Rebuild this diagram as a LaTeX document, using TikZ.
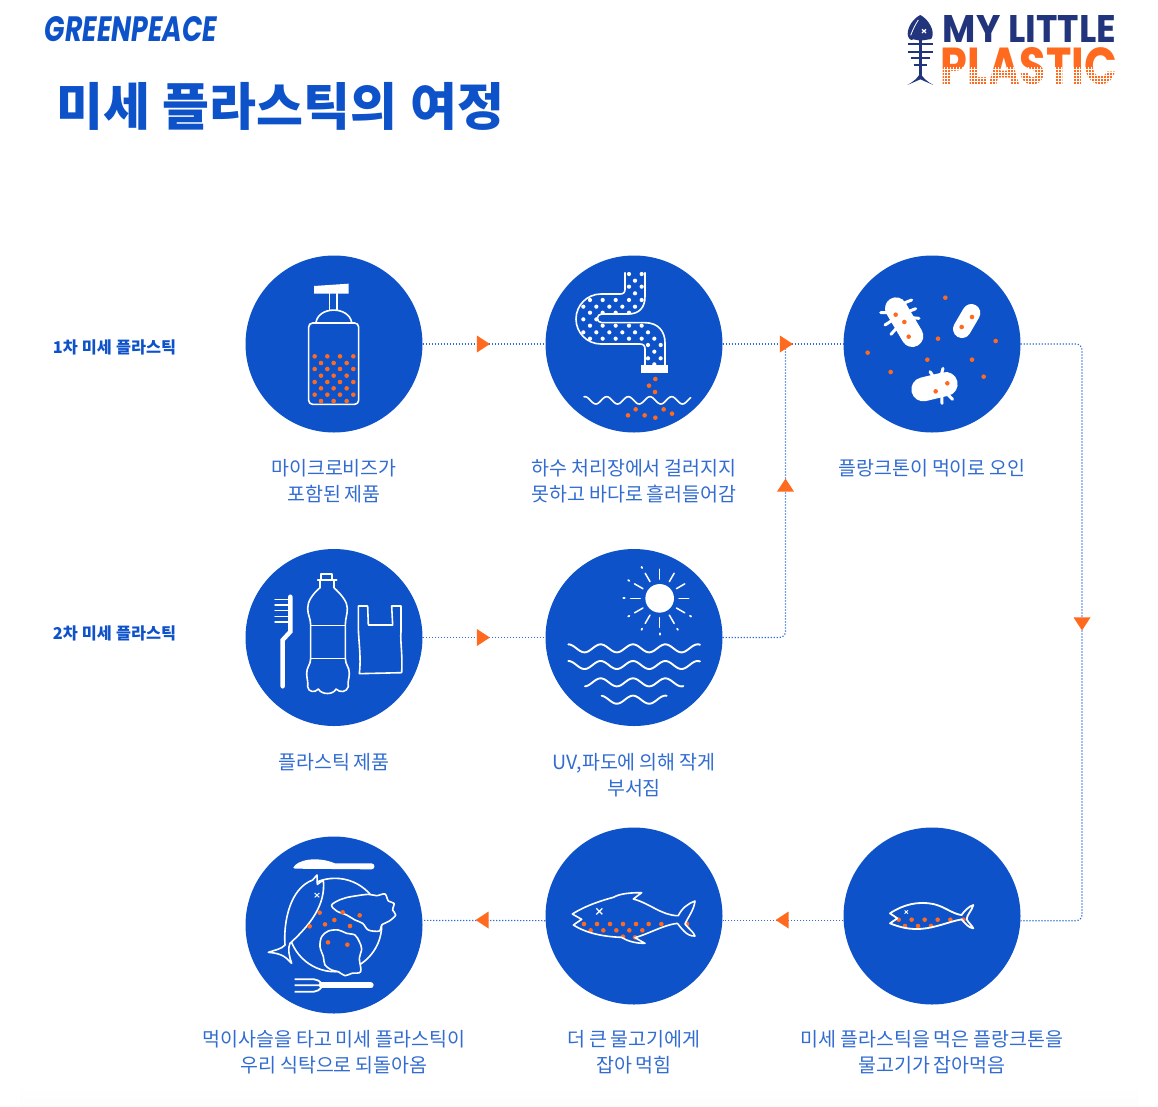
\documentclass[tikz,border=0pt]{standalone}
\usepackage{fontspec}
\usetikzlibrary{shapes.geometric}
\setmainfont{Noto Sans CJK KR}[WordSpace=0.85]
\newfontfamily\headfont{Noto Sans CJK KR}[WordSpace=1.1]
\newfontfamily\logofont{Poppins}[BoldFont=Poppins Bold]
\definecolor{gpblue}{HTML}{0E52C9}
\definecolor{gporange}{HTML}{FF6A1F}
\definecolor{gpnavy}{HTML}{22357C}
\definecolor{gpline}{HTML}{2E6BD6}
\tikzset{
  disc/.style={circle,fill=gpblue,minimum size=177pt,inner sep=0pt},
  flowtip/.style={isosceles triangle,isosceles triangle stretches,fill=gporange,minimum width=17pt,minimum height=13pt,inner sep=0pt,shape border rotate=#1},
  flowline/.style={draw=gpline,line width=1.2pt,dash pattern=on 1.2pt off 1.8pt},
  caption/.style={text=gpblue!85!white,font=\fontsize{19.5}{26}\selectfont,align=center,inner sep=0pt},
  sidenote/.style={text=gpblue,font=\headfont\bfseries\fontsize{16.3}{20}\selectfont,inner sep=0pt},
  icon/.style={draw=white,line width=1.6pt,line cap=round,line join=round},
  zoomed/.style={x=0.33333pt,y=-0.33333pt}
}
\newcommand{\orangedots}[1]{\foreach \px/\py in {#1} \fill[gporange] (\px,\py) circle (2.3pt);}
\newcommand{\whitedots}[1]{\foreach \px/\py in {#1} \fill[white] (\px,\py) circle (2.1pt);}
\newcommand{\wave}[4]{\draw[icon,line width=1.9pt] plot[domain=#1:#2,samples=90,smooth] (\x,{#3-12*cos((\x-#4)/97*360)});}
\begin{document}
\begin{tikzpicture}[x=1pt,y=-1pt]
  \useasboundingbox (0,0) rectangle (1158,1106);
  \shade[top color=white,bottom color=black!1] (20,1085) rectangle (1138,1106);
  % header
  \node[text=gpblue,font=\headfont\bfseries\fontsize{51}{51}\selectfont,anchor=west,inner sep=0pt] (title) at (56,106) {미세 플라스틱의 여정};
  \node[text=gpblue,anchor=center,inner sep=0pt] (greenpeace) at (131,29) {\resizebox{172pt}{25pt}{\logofont\bfseries\itshape GREENPEACE}};
  \node[text=gpnavy,inner sep=0pt] (mylittle) at (1029.5,28.5) {\resizebox{173pt}{27pt}{\logofont\bfseries MY LITTLE}};
  \node[text=gporange,inner sep=0pt] (plastic) at (1029,66.5) {\resizebox{176pt}{37pt}{\logofont\bfseries PLASTIC}};
  \begin{scope}
    \clip (938,67) rectangle (1120,88);
    \foreach \k in {69,72,...,87} \draw[white,line width=0.9pt] (938,\k) -- (1120,\k);
    \foreach \k in {938,941,...,1120} \draw[white,line width=0.9pt] (\k,67) -- (\k,88);
  \end{scope}
  \begin{scope}[shift={(880,0)},zoomed]
    \fill[gpnavy] (121,45) .. controls (100,55) and (83,80) .. (83,102) .. controls (84,115) and (92,124) .. (100,118) -- (121,122) -- (148,118) .. controls (155,120) and (158,110) .. (158,100) .. controls (158,80) and (140,55) .. (121,45) -- cycle;
    \draw[white,line width=0.8pt] (92,106) .. controls (100,85) and (108,70) .. (115,60);
    \draw[white,line width=1.2pt] (126,88) -- (138,99) (138,88) -- (126,99);
    \draw[gpnavy,line width=2.6pt] (121,118) -- (121,230);
    \foreach \ry/\rx in {133/38,155/38,175/29,195/20} \draw[gpnavy,line width=2pt] (121-\rx,\ry) -- (121+\rx,\ry);
    \fill[gpnavy] (121,215) .. controls (118,232) and (100,245) .. (82,255) -- (121,238) -- (160,255) .. controls (142,245) and (124,232) .. (121,215) -- cycle;
  \end{scope}
  % discs
  \node[disc] (soap) at (334,344) {};
  \node[disc] (pipe) at (634,344) {};
  \node[disc] (plankton) at (932,344) {};
  \node[disc] (products) at (334,637.5) {};
  \node[disc] (sea) at (634,637.5) {};
  \node[disc] (dish) at (334,925) {};
  \node[disc] (bigfish) at (634,916) {};
  \node[disc] (smallfish) at (932,916) {};
  % connectors
  \coordinate (riseturn) at (785.5,637.5);
  \coordinate (rightturn) at (1082,344);
  \coordinate (risetop) at (785.5,344);
  \draw[flowline] (soap) -- (pipe);
  \draw[flowline] (pipe) -- (plankton);
  \draw[flowline] (products) -- (sea);
  \draw[flowline,rounded corners=6pt] (sea.east) -- (riseturn) -- (risetop);
  \draw[flowline,rounded corners=6pt] (plankton.east) -- (rightturn) |- (smallfish.-3);
  \draw[flowline] (smallfish.183) -- (bigfish.-3);
  \draw[flowline] (bigfish.183) -- (dish.3);
  \node[flowtip=0] (tipa) at (481.5,344) {};
  \node[flowtip=0] (tipb) at (784.5,344) {};
  \node[flowtip=0] (tipc) at (481.5,637.5) {};
  \node[flowtip=90] (tipd) at (785.5,487) {};
  \node[flowtip=-90] (tipe) at (1082,622) {};
  \node[flowtip=180] (tipf) at (784,920) {};
  \node[flowtip=180] (tipg) at (484,920) {};
  % soap bottle
  \begin{scope}[shift={(240,250)},zoomed]
    \fill[white] (222,108) -- (326,101) -- (326,131) -- (222,131) -- cycle;
    \draw[icon] (268,131) -- (268,180) (291,131) -- (291,180);
    \draw[icon] (228,217) .. controls (236,168) and (326,168) .. (335,217);
    \draw[icon,rounded corners=4pt] (206,219) rectangle (356,463);
    \orangedots{224/319,262/319,300/319,340/319,243/339,281/339,320/339,224/357,262/357,300/357,340/357,243/377,281/377,320/377,224/396,262/396,300/396,340/396,243/415,281/415,320/415,224/434,262/434,300/434,340/434,243/453,281/453,320/453}
    % drain pipe
    \draw[icon] (1155,68) -- (1155,118) .. controls (1155,128) and (1150,132) .. (1140,132) -- (1083,132) arc[start angle=-90,end angle=-270,radius=75] -- (1200,282) .. controls (1210,282) and (1215,287) .. (1215,297) -- (1215,345);
    \draw[icon] (1215,68) -- (1215,140) .. controls (1215,175) and (1195,192) .. (1165,192) -- (1085,192) arc[start angle=-90,end angle=-270,radius=13] -- (1215,218) .. controls (1255,218) and (1275,245) .. (1275,278) -- (1275,345);
    \fill[white] (1202,345) rectangle (1285,370);
    \whitedots{1167/72,1205/72,1185/92,1167/110,1205/110,1185/130,1050/150,1088/150,1127/150,1167/150,1205/150,1030/170,1069/170,1108/170,1147/170,1185/170,1050/188,1088/188,1127/188,1167/188,1030/208,1069/208,1050/227,1088/227,1127/227,1167/227,1205/227,1030/247,1069/247,1108/247,1147/247,1185/247,1224/247,1050/266,1088/266,1127/266,1167/266,1205/266,1243/266,1224/285,1262/285,1243/305,1224/325,1262/325,1243/343}
    \orangedots{1246/387,1227/407,1245/426,1187/478,1164/496,1214/496,1246/503,1271/478,1296/491}
    \draw[icon] plot[domain=1032:1352,samples=90,smooth] (\x,{451-11*cos((\x-1100)/65*360)});
  \end{scope}
  % plankton
  \begin{scope}[shift={(770,250)},zoomed]
    \draw[white,line width=22pt,line cap=round] (378,175) -- (427,258);
    \draw[white,line width=18pt,line cap=round] (604,189) -- (576,237);
    \draw[white,line width=24pt,line cap=round] (460,418) -- (527,402);
    \draw[white,line width=3pt,line cap=round] (405,158) -- (425,150) (412,186) -- (437,176) (425,203) -- (447,205) (332,188) -- (360,188) (345,225) -- (365,212) (363,253) -- (378,236) (480,365) -- (492,382) (519,355) -- (513,378) (516,460) -- (515,435) (548,448) -- (530,430);
    \orangedots{377/194,403/216,416/260,606/201,575/231,532/400,497/424,526/143,504/266,677/273,293/308,472/329,606/329,362/366,641/380}
  \end{scope}
  % products
  \begin{scope}[shift={(240,545)},zoomed]
    \draw[icon,line width=4.4pt,line join=miter] (128,424) -- (128,285) -- (151,260) -- (151,155);
    \foreach \ky in {163,180,197,214,231} \draw[icon,line width=1.5pt] (105,\ky) -- (150,\ky);
    \draw[icon] (233,105) -- (290,105);
    \draw[icon] (243,105) -- (243,87) -- (276,87) -- (276,105);
    \draw[icon] (240,108) -- (240,128) .. controls (215,150) and (203,170) .. (203,190) .. controls (203,210) and (212,220) .. (212,240) -- (212,340) .. controls (212,360) and (200,365) .. (200,385) .. controls (200,400) and (205,410) .. (203,425) .. controls (205,442) and (225,444) .. (235,432) .. controls (245,450) and (280,450) .. (288,432) .. controls (300,444) and (320,442) .. (325,425) .. controls (322,410) and (328,400) .. (328,385) .. controls (328,365) and (316,360) .. (316,340) -- (316,240) .. controls (316,220) and (322,210) .. (322,190) .. controls (322,170) and (305,150) .. (282,128) -- (282,108);
    \draw[icon] (212,242) -- (316,242) (212,340) -- (316,340);
    \draw[icon] (355,183) -- (383,183) -- (385,240) -- (458,240) -- (455,183) -- (483,183) -- (483,260) .. controls (480,290) and (488,320) .. (485,383) -- (358,386) .. controls (364,340) and (356,290) .. (355,250) -- cycle;
    % sun and waves
    \fill[white] (1259,160) circle (14.3pt);
    \foreach \ka in {0,30,...,330} \draw[icon,line width=1.5pt] ([shift={(1259,160)}]\ka:58) -- ([shift={(1259,160)}]\ka:87);
    \foreach \ka in {-120,-150,-180,-210,-240,-270,-300,-330} \draw[icon,line width=1.8pt] ([shift={(1259,160)}]\ka:105) -- ([shift={(1259,160)}]\ka:109);
    \wave{985}{1380}{310}{1082}
    \wave{985}{1380}{360}{1082}
    \wave{1035}{1330}{412}{1082}
    \wave{1085}{1280}{464}{1082}
  \end{scope}
  % dish
  \begin{scope}[shift={(240,825)},zoomed]
    \fill[white] (160,128) .. controls (170,105) and (230,92) .. (285,115) -- (395,115) .. controls (406,116) and (406,132) .. (395,133) -- (165,131) -- cycle;
    \draw[white,line width=6pt,line cap=round] (245,481) -- (392,481);
    \draw[white,line width=1.8pt] (164,463) -- (205,463) .. controls (232,460) and (245,470) .. (245,481) .. controls (245,492) and (232,503) .. (205,500) -- (164,500) (164,481) -- (245,481);
    \draw[icon] (285,300) circle (46.7pt);
    \draw[icon,fill=gpblue] (231,150) -- (232,178) -- (250,165) .. controls (258,240) and (210,300) .. (150,355) .. controls (142,370) and (148,395) .. (155,415) .. controls (140,400) and (130,385) .. (85,382) .. controls (105,375) and (125,372) .. (135,360) .. controls (130,290) and (150,190) .. (218,165) -- cycle;
    \draw[white,line width=1pt] (224,204) -- (238,217) (238,204) -- (224,217);
    \draw[icon,fill=gpblue] plot[smooth cycle,tension=0.55] coordinates {(275,240) (300,224) (318,218) (345,213) (385,208) (410,212) (435,207) (445,228) (462,235) (458,255) (467,270) (448,288) (425,300) (418,318) (385,315) (368,295) (345,285) (320,270) (290,258)};
    \draw[icon,fill=gpblue] plot[smooth cycle,tension=0.55] coordinates {(245,335) (265,318) (295,315) (320,325) (345,330) (358,350) (365,372) (358,400) (362,440) (335,445) (315,452) (295,440) (275,435) (255,420) (250,395) (240,365)};
    \orangedots{239/263,209/304,255/298,283/285,308/262,359/271,330/303,264/352,322/359}
    % big fish
    \orangedots{1032/297,1071/297,1110/297,1149/297,1188/297,1226/297,1264/297,1341/297,1052/316,1090/316,1129/316,1168/316,1207/316,1149/335,1185/337}
    \draw[icon] (997,267) .. controls (1040,240) and (1090,225) .. (1120,217) .. controls (1140,205) and (1175,203) .. (1205,203) -- (1180,222) .. controls (1230,235) and (1265,272) .. (1315,272) .. controls (1325,250) and (1345,235) .. (1365,228) .. controls (1362,255) and (1345,275) .. (1335,297) .. controls (1345,310) and (1360,320) .. (1365,333) .. controls (1340,335) and (1325,310) .. (1312,295) .. controls (1270,300) and (1230,325) .. (1185,338) -- (1215,355) .. controls (1190,355) and (1165,350) .. (1145,337) .. controls (1090,335) and (1040,325) .. (1000,300) -- (1025,283) -- cycle;
    \draw[white,line width=1.2pt] (1069,250) -- (1087,268) (1087,250) -- (1069,268);
  \end{scope}
  % small fish
  \begin{scope}[shift={(770,825)},zoomed]
    \orangedots{386/284,425/284,464/284,503/284,541/284,580/284,405/303,444/303,483/303}
    \draw[icon,line width=1.8pt] (360,265) .. controls (400,238) and (445,228) .. (490,237) .. controls (525,245) and (550,268) .. (575,270) .. controls (583,258) and (595,245) .. (610,240) .. controls (605,258) and (590,270) .. (590,283) .. controls (595,293) and (605,300) .. (610,310) .. controls (595,308) and (585,295) .. (575,283) .. controls (535,290) and (490,312) .. (440,312) .. controls (410,312) and (385,305) .. (360,295) -- (382,280) -- cycle;
    \draw[white,line width=0.9pt] (404,256) -- (414,266) (414,256) -- (404,266);
  \end{scope}
  % captions
  \node[sidenote] (firstnote) at (114.5,347) {1차 미세 플라스틱};
  \node[sidenote] (secondnote) at (114.5,633) {2차 미세 플라스틱};
  \node[caption] (soaptext) at (334,481.5) {마이크로비즈가\\포함된 제품};
  \node[caption] (pipetext) at (634,481.5) {하수 처리장에서 걸러지지\\못하고 바다로 흘러들어감};
  \node[caption] (planktontext) at (932,468.5) {플랑크톤이 먹이로 오인};
  \node[caption] (productstext) at (334,762.5) {플라스틱 제품};
  \node[caption] (seatext) at (634,775.5) {UV,파도에 의해 작게\\부서짐};
  \node[caption] (dishtext) at (334,1052.5) {먹이사슬을 타고 미세 플라스틱이\\우리 식탁으로 되돌아옴};
  \node[caption] (bigfishtext) at (634,1052.5) {더 큰 물고기에게\\잡아 먹힘};
  \node[caption] (smallfishtext) at (932,1052.5) {미세 플라스틱을 먹은 플랑크톤을\\물고기가 잡아먹음};
\end{tikzpicture}
\end{document}
